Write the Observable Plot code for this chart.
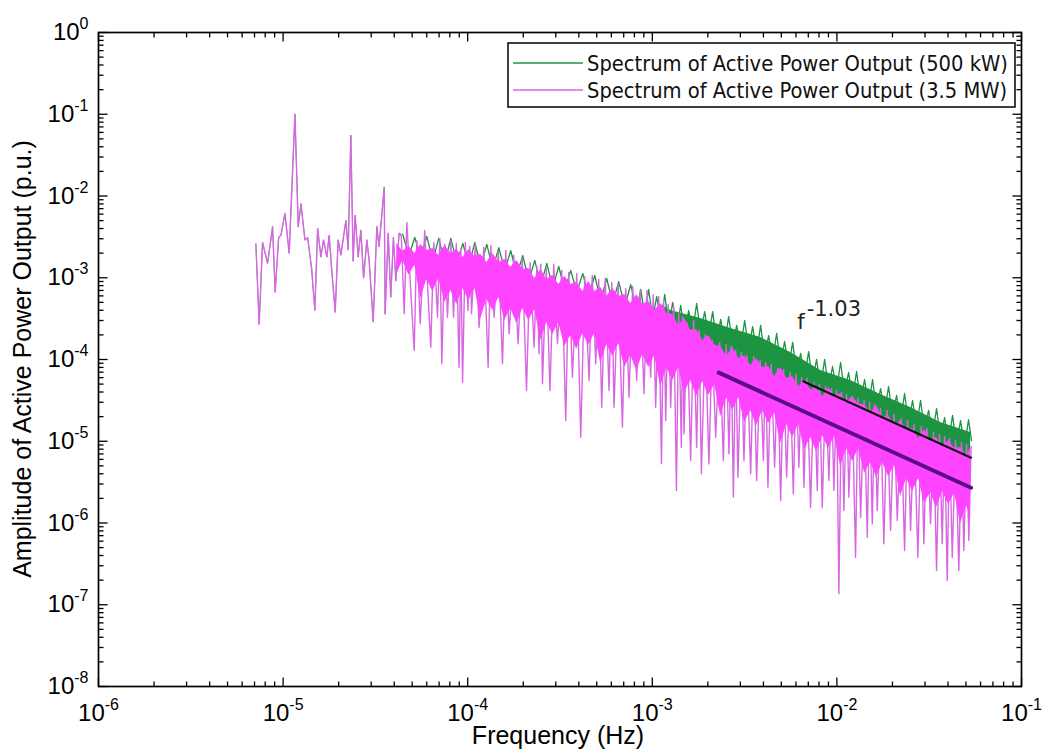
<!DOCTYPE html>
<html>
<head>
<meta charset="utf-8">
<script src="https://cdn.jsdelivr.net/npm/d3@7"></script>
<script src="https://cdn.jsdelivr.net/npm/@observablehq/plot@0.6"></script>
<style>
  html, body { margin: 0; padding: 0; background: #fff; }
  #chart { width: 1050px; height: 749px; }
</style>
</head>
<body>
<div id="chart"></div>
<script>
// ---------- data ----------
// low-frequency part, where both spectra coincide (Hz, p.u.)
const lowFreqF = [7.12e-6, 7.42e-6, 7.74e-6, 8.24e-6, 8.77e-6, 9.06e-6, 9.46e-6, 9.73e-6, 1.023e-5, 1.079e-5,
  1.159e-5, 1.208e-5, 1.249e-5, 1.313e-5, 1.358e-5, 1.427e-5, 1.486e-5, 1.538e-5, 1.602e-5, 1.656e-5,
  1.726e-5, 1.777e-5, 1.831e-5, 1.915e-5, 1.987e-5, 2.056e-5, 2.188e-5, 2.252e-5, 2.328e-5, 2.396e-5,
  2.455e-5, 2.551e-5, 2.638e-5, 2.728e-5, 2.843e-5, 2.926e-5, 3.076e-5, 3.22e-5, 3.31e-5, 3.53e-5,
  3.57e-5, 3.71e-5, 3.83e-5, 3.96e-5, 4.08e-5, 4.25e-5];
const lowFreqV = [2.6e-3, 2.7e-4, 2.7e-3, 1.5e-3, 4.2e-3, 6.7e-4, 3.1e-3, 3.3e-3, 6.1e-3, 2.0e-3,
  0.10, 4.2e-3, 8.0e-3, 2.9e-3, 3.1e-3, 1.3e-3, 4.0e-4, 4.0e-3, 1.8e-3, 2.9e-3,
  1.8e-3, 3.3e-3, 1.3e-3, 3.8e-4, 2.9e-3, 1.9e-3, 5.0e-3, 2.2e-3, 0.055, 1.6e-3,
  5.8e-3, 1.8e-3, 3.8e-3, 1.0e-3, 2.9e-3, 1.6e-3, 2.9e-4, 4.2e-3, 2.4e-3, 0.0128,
  3.6e-4, 3.5e-3, 5.8e-4, 3.1e-3, 9.2e-4, 3.5e-3];

// 3.5 MW spectrum, dense part: alternating local tops and spike bottoms
const mag35F = [4.37e-5, 4.53e-5, 4.68e-5, 5.13e-5, 5.30e-5, 5.53e-5, 5.85e-5, 6.31e-5, 6.55e-5, 6.86e-5,
  7.06e-5, 7.24e-5, 7.52e-5, 7.77e-5, 8.10e-5, 8.38e-5, 8.68e-5, 8.98e-5, 9.18e-5, 9.38e-5,
  9.71e-5, 1.004e-4, 1.027e-4, 1.049e-4, 1.100e-4, 1.153e-4, 1.223e-4, 1.290e-4, 1.334e-4, 1.390e-4,
  1.466e-4, 1.543e-4, 1.608e-4, 1.676e-4, 1.777e-4, 1.875e-4, 1.976e-4, 2.082e-4, 2.178e-4, 2.289e-4,
  2.367e-4, 2.435e-4, 2.488e-4, 2.541e-4, 2.665e-4, 2.790e-4, 2.925e-4, 3.063e-4, 3.232e-4, 3.397e-4,
  3.527e-4, 3.693e-4, 3.897e-4, 4.096e-4, 4.305e-4, 4.542e-4, 4.728e-4, 4.938e-4, 5.126e-4, 5.322e-4,
  5.561e-4, 5.828e-4, 6.03e-4, 6.204e-4, 6.533e-4, 6.889e-4, 7.179e-4, 7.479e-4, 7.833e-4, 8.233e-4,
  8.601e-4, 9.019e-4, 9.363e-4, 9.80e-4, 1.011e-3, 1.043e-3, 1.083e-3, 1.121e-3, 1.153e-3, 1.182e-3,
  1.219e-3, 1.258e-3, 1.306e-3, 1.351e-3, 1.390e-3, 1.437e-3, 1.461e-3, 1.485e-3, 1.542e-3, 1.614e-3,
  1.675e-3, 1.739e-3, 1.794e-3, 1.844e-3, 1.934e-3, 2.027e-3, 2.110e-3, 2.204e-3, 2.317e-3, 2.426e-3,
  2.513e-3, 2.601e-3, 2.675e-3, 2.748e-3, 2.829e-3, 2.911e-3, 3.030e-3, 3.137e-3, 3.257e-3, 3.410e-3,
  3.540e-3, 3.675e-3, 3.839e-3, 3.994e-3, 4.111e-3, 4.231e-3, 4.403e-3, 4.599e-3, 4.774e-3, 4.957e-3,
  5.146e-3, 5.342e-3, 5.581e-3, 5.806e-3, 6.014e-3, 6.226e-3, 6.44e-3, 6.627e-3, 6.88e-3, 7.20e-3,
  7.52e-3, 7.83e-3, 8.05e-3, 8.33e-3, 8.68e-3, 9.05e-3, 9.36e-3, 9.63e-3, 9.96e-3, 1.025e-2,
  1.060e-2, 1.091e-2, 1.128e-2, 1.161e-2, 1.209e-2, 1.262e-2, 1.301e-2, 1.344e-2, 1.404e-2, 1.461e-2,
  1.504e-2, 1.555e-2, 1.600e-2, 1.654e-2, 1.724e-2, 1.796e-2, 1.870e-2, 1.953e-2, 2.040e-2, 2.123e-2,
  2.227e-2, 2.326e-2, 2.415e-2, 2.506e-2, 2.618e-2, 2.745e-2, 2.857e-2, 2.958e-2, 3.071e-2, 3.216e-2,
  3.338e-2, 3.466e-2, 3.598e-2, 3.721e-2, 3.829e-2, 3.960e-2, 4.075e-2, 4.215e-2, 4.392e-2, 4.576e-2,
  4.733e-2, 4.871e-2, 5.038e-2, 5.184e-2, 5.33e-2];
const mag35V = [3.20e-3, 3.62e-4, 4.74e-3, 1.29e-4, 2.86e-3, 2.73e-4, 3.78e-3, 1.41e-4, 2.70e-3, 3.28e-4,
  3.03e-3, 8.85e-5, 2.56e-3, 3.28e-4, 2.86e-3, 3.28e-4, 2.63e-3, 8.04e-5, 2.27e-3, 5.27e-5,
  2.70e-3, 3.97e-4, 2.41e-3, 3.62e-4, 2.56e-3, 2.48e-4, 2.34e-3, 8.04e-5, 2.48e-3, 3.28e-4,
  2.09e-3, 8.85e-5, 2.15e-3, 2.06e-4, 1.87e-3, 1.56e-4, 1.72e-3, 4.18e-5, 1.54e-3, 1.41e-4,
  1.38e-3, 1.18e-4, 1.46e-3, 5.04e-5, 1.30e-3, 4.18e-5, 1.46e-3, 1.56e-4, 1.23e-3, 1.79e-5,
  1.16e-3, 6.06e-5, 1.13e-3, 1.12e-5, 1.04e-3, 5.53e-5, 1.065e-3, 8.85e-5, 9.51e-4, 2.60e-5,
  9.79e-4, 4.18e-5, 8.74e-4, 2.60e-5, 8.50e-4, 1.48e-5, 7.39e-4, 3.46e-5, 7.81e-4, 5.53e-5,
  6.98e-4, 3.81e-5, 6.98e-4, 6.06e-5, 6.24e-4, 2.60e-5, 5.89e-4, 5.29e-6, 5.27e-4, 1.79e-5,
  4.71e-4, 2.60e-5, 4.45e-4, 2.50e-6, 3.75e-4, 8.44e-6, 3.35e-4, 1.23e-5, 2.84e-4, 5.81e-6,
  3.0e-4, 8.44e-6, 2.26e-4, 4.0e-6, 2.02e-4, 5.29e-6, 1.71e-4, 1.12e-5, 1.62e-4, 5.81e-6,
  1.53e-4, 7.01e-6, 1.44e-4, 2.07e-6, 1.29e-4, 3.63e-6, 1.22e-4, 5.81e-6, 1.12e-4, 4.0e-6,
  1.09e-4, 3.31e-6, 9.72e-5, 5.81e-6, 9.19e-5, 2.74e-6, 8.68e-5, 4.81e-6, 7.76e-5, 1.88e-6,
  7.54e-5, 3.63e-6, 6.93e-5, 2.28e-6, 6.55e-5, 4.81e-6, 6.02e-5, 2.74e-6, 5.85e-5, 1.55e-6,
  5.23e-5, 2.50e-6, 4.94e-5, 1.55e-6, 4.67e-5, 3.31e-6, 4.42e-5, 2.50e-6, 4.18e-5, 1.36e-7,
  3.95e-5, 1.42e-6, 3.73e-5, 2.07e-6, 3.53e-5, 3.81e-7, 3.33e-5, 1.17e-6, 3.15e-5, 6.69e-7,
  2.98e-5, 9.75e-7, 2.81e-5, 1.42e-6, 2.51e-5, 5.57e-7, 2.38e-5, 8.09e-7, 2.13e-5, 1.07e-6,
  1.89e-5, 4.61e-7, 1.79e-5, 8.09e-7, 1.60e-5, 3.81e-7, 1.51e-5, 5.57e-7, 1.43e-5, 9.75e-7,
  1.28e-5, 2.62e-7, 1.21e-5, 5.57e-7, 1.14e-5, 1.98e-7, 1.08e-5, 3.81e-7, 1.02e-5, 2.62e-7,
  9.64e-6, 4.61e-7, 9.11e-6, 6.11e-7, 8.61e-6];
// dense core of the 3.5 MW band (ragged upper and lower edges)
const mag35CoreF = [4.13e-5, 4.45e-5, 4.80e-5, 5.17e-5, 5.57e-5, 6.00e-5, 6.47e-5, 6.97e-5, 7.52e-5, 8.10e-5,
  8.73e-5, 9.41e-5, 1.014e-4, 1.093e-4, 1.178e-4, 1.269e-4, 1.368e-4, 1.474e-4, 1.588e-4, 1.712e-4,
  1.845e-4, 1.988e-4, 2.142e-4, 2.309e-4, 2.488e-4, 2.681e-4, 2.889e-4, 3.113e-4, 3.355e-4, 3.616e-4,
  3.897e-4, 4.199e-4, 4.525e-4, 4.877e-4, 5.256e-4, 5.664e-4, 6.104e-4, 6.578e-4, 7.090e-4, 7.640e-4,
  8.233e-4, 8.873e-4, 9.562e-4, 1.030e-3, 1.111e-3, 1.197e-3, 1.290e-3, 1.390e-3, 1.498e-3, 1.614e-3,
  1.739e-3, 1.874e-3, 2.020e-3, 2.177e-3, 2.346e-3, 2.528e-3, 2.725e-3, 2.937e-3, 3.165e-3, 3.410e-3,
  3.675e-3, 3.960e-3, 4.268e-3, 4.599e-3, 4.957e-3, 5.342e-3, 5.757e-3, 6.204e-3, 6.685e-3, 7.200e-3,
  7.759e-3, 8.366e-3, 9.015e-3, 9.712e-3, 1.047e-2, 1.128e-2, 1.216e-2, 1.310e-2, 1.413e-2, 1.522e-2,
  1.640e-2, 1.767e-2, 1.905e-2, 2.053e-2, 2.213e-2, 2.385e-2, 2.569e-2, 2.769e-2, 2.984e-2, 3.216e-2,
  3.466e-2, 3.735e-2, 4.025e-2, 4.338e-2, 4.675e-2, 5.038e-2, 5.296e-2];
const mag35CoreHi = [2.63e-3, 2.09e-3, 2.42e-3, 1.98e-3, 2.56e-3, 2.15e-3, 2.28e-3, 1.87e-3, 2.48e-3, 1.98e-3,
  2.22e-3, 1.77e-3, 2.22e-3, 1.82e-3, 1.92e-3, 1.54e-3, 1.98e-3, 1.54e-3, 1.67e-3, 1.34e-3,
  1.63e-3, 1.26e-3, 1.30e-3, 9.82e-4, 1.26e-3, 9.54e-4, 1.07e-3, 8.26e-4, 1.04e-3, 8.26e-4,
  8.74e-4, 6.79e-4, 8.99e-4, 6.79e-4, 7.59e-4, 5.89e-4, 7.38e-4, 5.89e-4, 6.24e-4, 4.84e-4,
  6.24e-4, 4.71e-4, 5.12e-4, 3.97e-4, 4.84e-4, 3.65e-4, 3.55e-4, 2.61e-4, 3.17e-4, 2.26e-4,
  2.33e-4, 1.71e-4, 1.96e-4, 1.49e-4, 1.44e-4, 1.09e-4, 1.40e-4, 1.03e-4, 1.12e-4, 8.44e-5,
  1.03e-4, 7.98e-5, 8.21e-5, 6.19e-5, 7.98e-5, 5.85e-5, 6.19e-5, 4.67e-5, 5.53e-5, 4.29e-5,
  4.41e-5, 3.53e-5, 4.54e-5, 3.53e-5, 3.84e-5, 2.98e-5, 3.53e-5, 2.81e-5, 2.81e-5, 2.19e-5,
  2.74e-5, 1.95e-5, 2.07e-5, 1.51e-5, 1.79e-5, 1.39e-5, 1.43e-5, 1.08e-5, 1.39e-5, 1.02e-5,
  1.11e-5, 8.61e-6, 1.02e-5, 8.14e-6, 8.37e-6, 6.50e-6, 8.37e-6];
const mag35CoreLo = [1.10e-3, 1.63e-3, 1.07e-3, 1.42e-3, 5.57e-4, 9.54e-4, 6.79e-4, 9.82e-4, 4.98e-4, 6.98e-4,
  4.71e-4, 7.38e-4, 5.27e-4, 7.38e-4, 3.17e-4, 5.42e-4, 3.97e-4, 5.73e-4, 3.00e-4, 4.21e-4,
  2.76e-4, 4.21e-4, 3.00e-4, 4.09e-4, 1.71e-4, 2.84e-4, 2.02e-4, 2.84e-4, 1.44e-4, 1.96e-4,
  1.33e-4, 2.08e-4, 1.49e-4, 2.08e-4, 8.93e-5, 1.53e-4, 1.09e-4, 1.57e-4, 7.98e-5, 1.12e-4,
  7.33e-5, 1.15e-4, 7.98e-5, 1.12e-4, 4.67e-5, 7.98e-5, 5.53e-5, 7.98e-5, 3.95e-5, 5.53e-5,
  3.53e-5, 5.38e-5, 3.63e-5, 4.94e-5, 2.01e-5, 3.43e-5, 2.38e-5, 3.43e-5, 1.69e-5, 2.38e-5,
  1.55e-5, 2.38e-5, 1.65e-5, 2.25e-5, 9.37e-6, 1.60e-5, 1.11e-5, 1.60e-5, 7.92e-6, 1.11e-5,
  7.49e-6, 1.17e-5, 8.14e-6, 1.14e-5, 4.91e-6, 8.14e-6, 5.65e-6, 8.14e-6, 4.03e-6, 5.49e-6,
  3.60e-6, 5.49e-6, 3.71e-6, 5.05e-6, 2.11e-6, 3.50e-6, 2.43e-6, 3.50e-6, 1.73e-6, 2.36e-6,
  1.54e-6, 2.43e-6, 1.68e-6, 2.30e-6, 9.83e-7, 1.63e-6, 1.17e-6];

// 500 kW spectrum: tops just above the 3.5 MW band below 1e-3 Hz
const g500TipF = [4.45e-5, 4.80e-5, 5.17e-5, 5.57e-5, 6.00e-5, 6.47e-5, 6.97e-5, 7.52e-5, 8.10e-5, 8.73e-5,
  9.41e-5, 1.014e-4, 1.093e-4, 1.178e-4, 1.269e-4, 1.368e-4, 1.474e-4, 1.588e-4, 1.712e-4, 1.845e-4,
  1.988e-4, 2.142e-4, 2.309e-4, 2.488e-4, 2.681e-4, 2.889e-4, 3.113e-4, 3.355e-4, 3.616e-4, 3.897e-4,
  4.199e-4, 4.525e-4, 4.877e-4, 5.256e-4, 5.664e-4, 6.104e-4, 6.578e-4, 7.09e-4, 7.640e-4, 8.233e-4];
const g500TipV = [3.38e-3, 1.87e-3, 3.11e-3, 1.72e-3, 3.20e-3, 1.63e-3, 3.03e-3, 1.54e-3, 3.03e-3, 1.54e-3,
  2.63e-3, 1.41e-3, 2.70e-3, 1.38e-3, 2.56e-3, 1.30e-3, 2.34e-3, 1.23e-3, 2.15e-3, 1.07e-3,
  1.87e-3, 9.25e-4, 1.63e-3, 8.03e-4, 1.50e-3, 7.59e-4, 1.38e-3, 6.98e-4, 1.23e-3, 6.60e-4,
  1.13e-3, 5.89e-4, 1.065e-3, 5.27e-4, 9.79e-4, 4.84e-4, 8.99e-4, 4.45e-4, 8.26e-4, 3.97e-4];
// 500 kW spectrum above ~1e-3 Hz (tops and dips)
const g500F = [8.66e-4, 9.10e-4, 9.56e-4, 1.005e-3, 1.056e-3, 1.111e-3, 1.168e-3, 1.227e-3, 1.290e-3, 1.356e-3,
  1.425e-3, 1.498e-3, 1.574e-3, 1.655e-3, 1.739e-3, 1.828e-3, 1.921e-3, 2.020e-3, 2.123e-3, 2.232e-3,
  2.346e-3, 2.466e-3, 2.592e-3, 2.725e-3, 2.864e-3, 3.011e-3, 3.165e-3, 3.327e-3, 3.496e-3, 3.675e-3,
  3.863e-3, 4.060e-3, 4.268e-3, 4.485e-3, 4.715e-3, 4.957e-3, 5.210e-3, 5.477e-3, 5.757e-3, 6.051e-3,
  6.36e-3, 6.685e-3, 7.03e-3, 7.38e-3, 7.76e-3, 8.16e-3, 8.58e-3, 9.01e-3, 9.47e-3, 9.96e-3,
  1.047e-2, 1.100e-2, 1.157e-2, 1.216e-2, 1.278e-2, 1.344e-2, 1.412e-2, 1.485e-2, 1.560e-2, 1.640e-2,
  1.724e-2, 1.812e-2, 1.905e-2, 2.002e-2, 2.105e-2, 2.213e-2, 2.326e-2, 2.445e-2, 2.570e-2, 2.700e-2,
  2.839e-2, 2.984e-2, 3.137e-2, 3.297e-2, 3.466e-2, 3.643e-2, 3.829e-2, 4.025e-2, 4.231e-2, 4.447e-2,
  4.675e-2, 4.914e-2, 5.165e-2, 5.36e-2];
const g500V = [7.18e-4, 3.45e-4, 7.18e-4, 3.17e-4, 5.89e-4, 3.0e-4, 6.24e-4, 2.68e-4, 4.98e-4, 2.26e-4,
  4.58e-4, 2.08e-4, 3.97e-4, 2.20e-4, 4.84e-4, 2.08e-4, 3.86e-4, 1.86e-4, 3.86e-4, 1.66e-4,
  3.09e-4, 1.57e-4, 3.35e-4, 1.49e-4, 2.61e-4, 1.40e-4, 3.0e-4, 1.33e-4, 2.53e-4, 1.22e-4,
  2.61e-4, 1.12e-4, 1.96e-4, 1.00e-4, 2.08e-4, 8.93e-5, 1.66e-4, 7.98e-5, 1.62e-4, 6.93e-5,
  1.19e-4, 6.19e-5, 1.25e-4, 5.38e-5, 1.00e-4, 4.67e-5, 1.00e-4, 4.41e-5, 8.21e-5, 4.29e-5,
  9.19e-5, 3.95e-5, 6.93e-5, 3.43e-5, 7.13e-5, 3.06e-5, 5.69e-5, 2.74e-5, 5.69e-5, 2.51e-5,
  4.41e-5, 2.25e-5, 4.67e-5, 2.01e-5, 3.63e-5, 1.79e-5, 3.84e-5, 1.65e-5, 3.15e-5, 1.51e-5,
  3.15e-5, 1.35e-5, 2.38e-5, 1.21e-5, 2.51e-5, 1.08e-5, 1.95e-5, 9.64e-6, 2.07e-5, 9.11e-6,
  1.79e-5, 8.61e-6, 1.84e-5, 1.02e-5];
// dense core of the visible 500 kW band
const g500CoreF  = [1.111e-3, 1.258e-3, 1.828e-3, 2.658e-3, 3.863e-3, 5.615e-3, 8.16e-3, 1.186e-2, 1.724e-2, 2.506e-2, 3.643e-2, 5.30e-2];
const g500CoreHi = [4.71e-4, 3.97e-4, 3.17e-4, 2.39e-4, 1.86e-4, 1.22e-4, 7.33e-5, 5.53e-5, 3.73e-5, 2.59e-5, 1.69e-5, 1.28e-5];
const g500CoreLo = [1.86e-4, 1.57e-4, 1.25e-4, 9.45e-5, 7.33e-5, 4.80e-5, 2.89e-5, 2.19e-5, 1.47e-5, 1.02e-5, 6.69e-6, 5.05e-6];

// f^-1.03 fit lines
const fit500F = [6.6e-3, 5.33e-2];
const fit500V = [5.4e-5, 6.3e-6];
const fit35F = [2.29e-3, 5.33e-2];
const fit35V = [6.9e-5, 2.7e-6];

// axes
const xMajor = [1e-6, 1e-5, 1e-4, 1e-3, 1e-2, 1e-1];
const yMajor = [1e-8, 1e-7, 1e-6, 1e-5, 1e-4, 1e-3, 1e-2, 1e-1, 1];
const minorSteps = [2, 3, 4, 5, 6, 7, 8, 9];
const xLabelExp = ["-6", "-5", "-4", "-3", "-2", "-1"];
const yLabelExp = ["-8", "-7", "-6", "-5", "-4", "-3", "-2", "-1", "0"];

const seriesNames = ["Spectrum of Active Power Output (500 kW)", "Spectrum of Active Power Output (3.5 MW)"];
const xTitle = "Frequency (Hz)";
const yTitle = "Amplitude of Active Power Output (p.u.)";
const fitLabel = ["f", "-1.03"];
const fitLabelF = [6.1e-3, 6.86e-3];
const fitLabelV = [2.33e-4, 3.36e-4];

// ---------- build ----------
const W = 1050, H = 749;
const mL = 98, mR = 29, mT = 32, mB = 63;
const GREEN = "#1d9441", MAG = "#ff44ff", MAGLINE = "#d866e2", PURPLE = "#5a0c88";
const X0 = 1e-6, X1 = 1e-1, Y0 = 1e-8, Y1 = 1;
// tick lengths expressed as ratios along the log axes (~9 px major, ~5 px minor)
const majorV = 1.29, minorV = 1.15, majorH = 1.12, minorH = 1.065;

const zip = (F, V) => F.slice(0, Math.min(F.length, V.length)).map((f, i) => ({f, v: V[i]}));
const band = (F, hi, lo) => F.slice(0, Math.min(F.length, hi.length, lo.length)).map((f, i) => ({f, hi: hi[i], lo: lo[i]}));

const lowPart = zip(lowFreqF, lowFreqV);
const magLine = lowPart.concat(zip(mag35F, mag35V));
const greenLow = lowPart.concat(zip(g500TipF, g500TipV).slice(0, 1));
const greenHigh = zip(g500TipF, g500TipV).concat(zip(g500F, g500V));
const magCore = band(mag35CoreF, mag35CoreHi, mag35CoreLo);
const greenCore = band(g500CoreF, g500CoreHi, g500CoreLo);

const xMinor = xMajor.slice(0, -1).flatMap(d => minorSteps.map(m => d * m));
const yMinor = yMajor.slice(0, -1).flatMap(d => minorSteps.map(m => d * m));
const xExpOf = new Map(xMajor.map((d, i) => [d, xLabelExp[i]]));
const yExpOf = new Map(yMajor.map((d, i) => [d, yLabelExp[i]]));

const tk = {stroke: "#000", strokeWidth: 1.3};
const xTicks = (vals, r) => [
  Plot.link(vals, {x1: d => d, x2: d => d, y1: () => Y0, y2: () => Y0 * r, ...tk}),
  Plot.link(vals, {x1: d => d, x2: d => d, y1: () => Y1, y2: () => Y1 / r, ...tk})
];
const yTicks = (vals, r) => [
  Plot.link(vals, {y1: d => d, y2: d => d, x1: () => X0, x2: () => X0 * r, ...tk}),
  Plot.link(vals, {y1: d => d, y2: d => d, x1: () => X1, x2: () => X1 / r, ...tk})
];

const svg = Plot.plot({
  width: W, height: H,
  marginLeft: mL, marginRight: mR, marginTop: mT, marginBottom: mB,
  style: {fontFamily: "'Liberation Sans', Arial, sans-serif", fontSize: "24px", color: "#000", background: "#fff"},
  x: {type: "log", domain: [X0, X1]},
  y: {type: "log", domain: [Y0, Y1]},
  marks: [
    Plot.areaY(greenCore, {x: "f", y1: "lo", y2: "hi", fill: GREEN}),
    Plot.line(greenLow, {x: "f", y: "v", stroke: GREEN, strokeWidth: 0.7}),
    Plot.line(greenHigh, {x: "f", y: "v", stroke: GREEN, strokeWidth: 1.3}),
    Plot.line(magLine, {x: "f", y: "v", stroke: MAGLINE, strokeWidth: 1.4}),
    Plot.areaY(magCore, {x: "f", y1: "lo", y2: "hi", fill: MAG}),
    Plot.line(zip(fit500F, fit500V), {x: "f", y: "v", stroke: "#111", strokeWidth: 2.2}),
    Plot.line(zip(fit35F, fit35V), {x: "f", y: "v", stroke: PURPLE, strokeWidth: 4}),
    Plot.text([0], {x: () => fitLabelF[0], y: () => fitLabelV[0], text: () => fitLabel[0], textAnchor: "start", lineAnchor: "bottom", fontSize: 21, fontFamily: "'DejaVu Sans', Verdana, sans-serif", fill: "#222"}),
    Plot.text([0], {x: () => fitLabelF[1], y: () => fitLabelV[1], text: () => fitLabel[1], textAnchor: "start", lineAnchor: "bottom", fontSize: 21, fontFamily: "'DejaVu Sans', Verdana, sans-serif", fill: "#222"}),
    ...xTicks(xMajor, majorV), ...xTicks(xMinor, minorV),
    ...yTicks(yMajor, majorH), ...yTicks(yMinor, minorH),
    Plot.frame({stroke: "#000", strokeWidth: 1.7}),
    Plot.axisX({anchor: "bottom", ticks: xMajor, tickFormat: d => "10^" + xExpOf.get(d), tickSize: 0, tickPadding: 17, label: null, fontSize: 24}),
    Plot.axisY({anchor: "left", ticks: yMajor, tickFormat: d => "10^" + yExpOf.get(d), tickSize: 0, tickPadding: 10, label: null, fontSize: 24})
  ]
});

// superscript exponents in tick labels
const NS = "http://www.w3.org/2000/svg";
svg.querySelectorAll('g[aria-label="x-axis tick label"] text, g[aria-label="y-axis tick label"] text').forEach(t => {
  const s = t.textContent;
  if (!s.includes("^")) return;
  const [base, exp] = s.split("^");
  t.textContent = "";
  const a = document.createElementNS(NS, "tspan");
  a.textContent = base;
  const b = document.createElementNS(NS, "tspan");
  b.textContent = exp;
  b.setAttribute("dy", "-11");
  b.setAttribute("font-size", "16");
  t.appendChild(a); t.appendChild(b);
});

document.getElementById("chart").appendChild(svg);
const root = d3.select(svg);

// axis titles
root.append("text")
  .attr("x", 558).attr("y", 744)
  .attr("text-anchor", "middle")
  .attr("font-family", "'Liberation Sans', Arial, sans-serif")
  .attr("font-size", 25).attr("fill", "#000")
  .text(xTitle);
root.append("text")
  .attr("transform", "translate(31,359) rotate(-90)")
  .attr("text-anchor", "middle")
  .attr("font-family", "'Liberation Sans', Arial, sans-serif")
  .attr("font-size", 25).attr("fill", "#000")
  .text(yTitle);

// legend
const lg = root.append("g");
lg.append("rect").attr("x", 508).attr("y", 43).attr("width", 507).attr("height", 64)
  .attr("fill", "#fff").attr("stroke", "#000").attr("stroke-width", 1.5);
const legColors = [GREEN, "#e060e0"];
const legY = [63, 90];
const texts = seriesNames.map((name, i) => {
  lg.append("line").attr("x1", 513).attr("x2", 583).attr("y1", legY[i]).attr("y2", legY[i])
    .attr("stroke", legColors[i]).attr("stroke-width", 1.6);
  return lg.append("text").attr("x", 587).attr("y", legY[i]).attr("dy", "0.36em")
    .attr("text-anchor", "start")
    .attr("font-family", "'DejaVu Sans Condensed', 'DejaVu Sans', Verdana, sans-serif")
    .attr("font-size", 20).attr("fill", "#111").text(name);
});
const len = texts[0].node().getComputedTextLength();
if (len > 0) {
  const fs = 20 * 421 / len;
  texts.forEach(t => t.attr("font-size", fs.toFixed(2)));
}
</script>
</body>
</html>
